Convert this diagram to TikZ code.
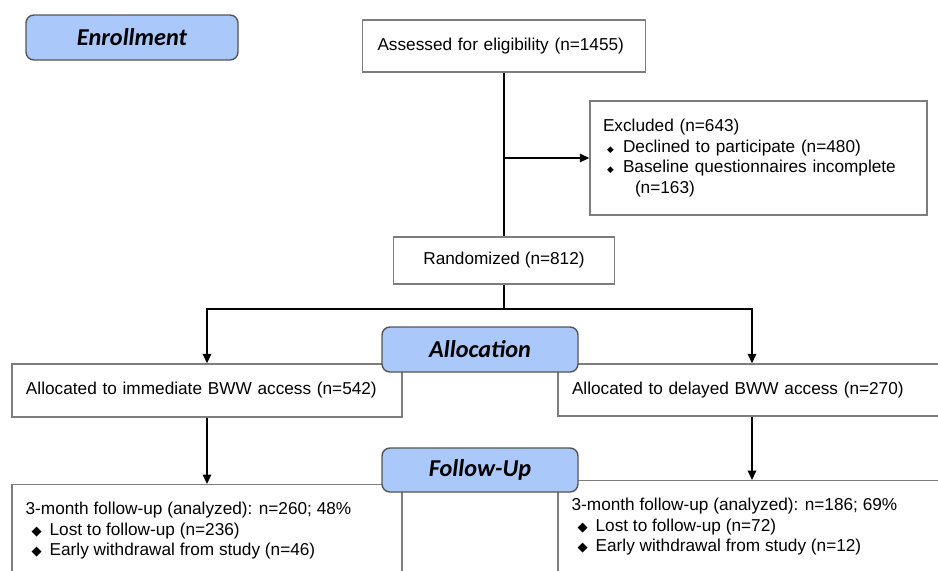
\documentclass[tikz,border=0pt]{standalone}
\usepackage{fontspec}
\setmainfont{Liberation Sans}
\newfontfamily\headfont{Carlito}
\newfontfamily\symfont{DejaVu Sans}
\usepackage{xcolor}
\usetikzlibrary{arrows.meta}

\definecolor{headblue}{RGB}{170,200,250}
\definecolor{headline}{RGB}{85,85,85}
\definecolor{boxline}{RGB}{125,125,125}

\newcommand{\bigdmd}{{\symfont\fontsize{7.5}{7.5}\selectfont ◆}}
\newcommand{\smalldmd}{{\symfont\fontsize{5}{5}\selectfont ◆}}

\begin{document}
\begin{tikzpicture}[font=\fontsize{9.8}{11.6}\selectfont,
  box/.style={draw=boxline,line width=0.8pt,inner xsep=0.28cm,inner ysep=0pt,align=left},
  head/.style={draw=headline,fill=headblue,line width=0.8pt,rounded corners=0.16cm,minimum width=3.92cm,minimum height=0.9cm,font=\headfont\fontsize{13.8}{14}\selectfont\bfseries\itshape},
  arr/.style={-{Triangle[width=0.17cm,length=0.19cm]},line width=1pt},
  conn/.style={line width=1pt}]

\useasboundingbox (0,0) rectangle (18.76,-11.4);
\clip (0,0) rectangle (18.76,-11.4);

\node[box,text width=5.06cm,minimum height=1.04cm,inner xsep=0.3cm] at(10.08,-0.92) (assessed) {Assessed for eligibility (n=1455)};

\node[box,text width=6.22cm,minimum height=2.28cm,inner xsep=0.26cm] at(15.17,-3.16) (excluded) {Excluded (n=643)\\
\hspace*{0.08cm}\makebox[0.32cm][l]{\smalldmd}Declined to participate (n=480)\\
\hspace*{0.08cm}\makebox[0.32cm][l]{\smalldmd}Baseline questionnaires incomplete\\
\hspace*{0.64cm}(n=163)};

\node[box,minimum width=4.42cm,minimum height=0.94cm,align=center] at(10.08,-5.21) (random) {Randomized (n=812)};


\node[box,text width=7.24cm,minimum height=1.06cm] at(4.14,-7.81) (allocL) {Allocated to immediate BWW access (n=542)};
\node[box,text width=7.2cm,minimum height=1.04cm] at(15.04,-7.8) (allocR) {Allocated to delayed BWW access (n=270)};


\node[box,minimum width=7.8cm,minimum height=3cm,anchor=north,
  label={[anchor=north west,align=left,inner sep=0pt,xshift=0.28cm,yshift=-0.36cm]north west:{3-month follow-up (analyzed): n=260; 48\%\\
  \hspace*{0.12cm}\makebox[0.36cm][l]{\bigdmd}Lost to follow-up (n=236)\\
  \hspace*{0.12cm}\makebox[0.36cm][l]{\bigdmd}Early withdrawal from study (n=46)}}] at(4.14,-9.68) (fuL) {};
\node[box,minimum width=7.76cm,minimum height=3cm,anchor=north,
  label={[anchor=north west,align=left,inner sep=0pt,xshift=0.28cm,yshift=-0.36cm]north west:{3-month follow-up (analyzed): n=186; 69\%\\
  \hspace*{0.12cm}\makebox[0.36cm][l]{\bigdmd}Lost to follow-up (n=72)\\
  \hspace*{0.12cm}\makebox[0.36cm][l]{\bigdmd}Early withdrawal from study (n=12)}}] at(15.04,-9.6) (fuR) {};


\coordinate (split) at(10.08,-6.18);

\draw[conn] (assessed.south) -- (random.north);
\draw[arr] (assessed.south |- excluded.west) -- (excluded.west);

\draw[conn] (random.south) -- (split);
\draw[arr] (split) -| (allocL.north);
\draw[arr] (split) -| (allocR.north);

\draw[arr] (allocL.south) -- (fuL.north);
\draw[arr] (allocR.south) -- (fuR.north);


\node[head,minimum width=4.24cm] at(2.64,-0.75) (enroll) {Enrollment};
\node[head] at(9.6,-6.99) (alloc) {Allocation};
\node[head,minimum height=0.88cm] at(9.6,-9.4) (follow) {Follow-Up};
\end{tikzpicture}
\end{document}
